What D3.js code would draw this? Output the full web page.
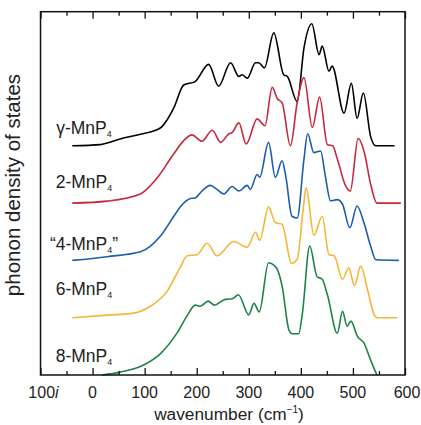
<!DOCTYPE html>
<html>
<head>
<meta charset="utf-8">
<script src="https://cdn.jsdelivr.net/npm/d3@7/dist/d3.min.js"></script>
<style>
  html, body { margin: 0; padding: 0; background: #fff; }
  svg { display: block; font-family: "Liberation Sans", Arial, Helvetica, sans-serif; }
</style>
</head>
<body>
<svg id="chart" width="421" height="425"></svg>
<script>
// Phonon density of states for MnP4 polytypes, stacked with vertical offsets.
// Each series: [wavenumber (cm^-1), DOS (arb. units)]

const seriesNames = ["γ-MnP", "2-MnP", "“4-MnP", "6-MnP", "8-MnP"];
const seriesSuffix = ["", "", "”", "", ""];
const seriesColors = ["#000000", "#c8283c", "#1b5eab", "#f7b535", "#1c8448"];
const seriesOffsets = [4, 3, 2, 1, 0];

const gammaMnP4 = [
  [-39, 0], [15, 0.02], [28, 0.05], [53, 0.12], [92, 0.2], [130, 0.31], [143, 0.45],
  [156, 0.66], [175, 1.06], [197, 1.12], [223, 1.42], [242, 1.04], [265, 1.45],
  [281, 1.21], [287, 1.24], [297, 1.18], [313, 1.45], [319, 1.45], [330, 1.36],
  [348, 1.97], [367, 1.24], [374, 1.21], [393, 0.77], [406, 1.71], [421, 2.13],
  [435, 1.59], [441, 1.74], [454, 1.3], [460, 1.39], [483, 0.57], [497, 1.09],
  [508, 0.48], [520, 0.92], [534, 0.16], [544, 0], [580, 0]
];

const mnP4_2 = [
  [-39, 0], [28, 0.035], [92, 0.16], [124, 0.44], [156, 0.86], [175, 1.09],
  [191, 1.19], [210, 1.08], [230, 1.27], [246, 1.06], [262, 1.21], [268, 1.23],
  [281, 1.4], [295, 1.03], [316, 1.47], [331, 1.35], [345, 2.02], [355, 1.82],
  [364, 1.75], [380, 1.0], [393, 1.76], [406, 2.19], [422, 1.32], [436, 1.85],
  [451, 1.02], [461, 1.0], [470, 0.77], [486, 0.3], [495, 0.21], [510, 1.13],
  [522, 0.88], [534, 0.33], [546, 0], [592, 0]
];

const mnP4_4 = [
  [-39, 0], [28, 0.065], [92, 0.15], [130, 0.42], [156, 0.77], [169, 0.94],
  [188, 1.08], [197, 1.09], [210, 1.21], [226, 1.31], [239, 1.24], [252, 1.16],
  [268, 1.29], [281, 1.21], [297, 1.31], [303, 1.24], [316, 1.5], [321, 1.45],
  [338, 2.06], [351, 1.45], [364, 1.74], [371, 1.47], [383, 0.77], [393, 0.74],
  [406, 1.77], [413, 2.21], [425, 1.88], [438, 1.91], [447, 1.47], [457, 1.04],
  [470, 1.06], [480, 0.98], [494, 0.57], [508, 0.95], [521, 0.66], [534, 0.25],
  [544, 0.01], [588, 0]
];

const mnP4_6 = [
  [-39, 0], [28, 0.045], [79, 0.08], [111, 0.2], [143, 0.46], [166, 0.84],
  [182, 1.08], [201, 1.1], [220, 1.3], [239, 1.08], [271, 1.33], [297, 1.23],
  [313, 1.49], [321, 1.35], [338, 1.93], [351, 1.66], [364, 1.63], [382, 0.95],
  [393, 1.02], [404, 1.85], [410, 2.27], [425, 1.44], [441, 1.77], [454, 1.1],
  [464, 1.08], [480, 0.67], [492, 0.87], [503, 0.56], [515, 0.9], [528, 0.49],
  [541, 0.05], [547, 0], [585, 0]
];

const mnP4_8 = [
  [18, 0], [53, 0.05], [98, 0.175], [130, 0.37], [162, 0.73], [182, 1.04],
  [197, 1.22], [207, 1.2], [222, 1.29], [234, 1.22], [255, 1.32], [268, 1.33],
  [280, 1.4], [300, 1.05], [310, 1.25], [320, 1.1], [338, 1.96], [349, 1.91],
  [355, 1.84], [364, 1.55], [377, 0.79], [383, 0.72], [396, 0.72], [403, 1.08],
  [417, 2.25], [431, 1.72], [441, 1.67], [451, 1.4], [470, 0.73], [480, 1.11],
  [489, 0.85], [496, 0.94], [509, 0.67], [521, 0.56], [534, 0.26], [546, 0]
];

const seriesData = [gammaMnP4, mnP4_2, mnP4_4, mnP4_6, mnP4_8];

const majorTicks = [-100, 0, 100, 200, 300, 400, 500, 600];
const minorTicks = [-50, 50, 150, 250, 350, 450, 550];
const tickLabels = ["100", "0", "100", "200", "300", "400", "500", "600"];

const svg = d3.select("#chart");
const plotLeft = 40.5, plotRight = 405, plotTop = 11.7, plotBottom = 375;

const x = d3.scaleLinear().domain([-100, 600]).range([plotLeft, plotRight]);
const y = d3.scaleLinear().domain([0, 6.34]).range([plotBottom, plotTop]);

// Curves
const line = d3.line()
  .x(d => x(d[0]))
  .y(d => y(d[1]))
  .curve(d3.curveMonotoneX);

seriesData.forEach((data, i) => {
  const shifted = data.map(d => [d[0], d[1] + seriesOffsets[i]]);
  svg.append("path")
    .datum(shifted)
    .attr("d", line)
    .attr("fill", "none")
    .attr("stroke", seriesColors[i])
    .attr("stroke-width", 1.6)
    .attr("stroke-linejoin", "round");
});

// Frame
svg.append("rect")
  .attr("x", plotLeft).attr("y", plotTop)
  .attr("width", plotRight - plotLeft).attr("height", plotBottom - plotTop)
  .attr("fill", "none").attr("stroke", "#111").attr("stroke-width", 1.5);

// Bottom and top axes with inward ticks
const bottomAxisMajor = d3.axisBottom(x).tickValues(majorTicks).tickSize(-7).tickFormat("");
const bottomAxisMinor = d3.axisBottom(x).tickValues(minorTicks).tickSize(-4).tickFormat("");
const topAxisMajor = d3.axisTop(x).tickValues(majorTicks).tickSize(-7).tickFormat("");
const topAxisMinor = d3.axisTop(x).tickValues(minorTicks).tickSize(-4).tickFormat("");

[[bottomAxisMajor, plotBottom], [bottomAxisMinor, plotBottom], [topAxisMajor, plotTop], [topAxisMinor, plotTop]].forEach(([ax, pos]) => {
  const g = svg.append("g").attr("transform", `translate(0,${pos})`).call(ax);
  g.select(".domain").remove();
  g.selectAll(".tick line").attr("stroke", "#111").attr("stroke-width", 1.3);
});

// Tick labels
const labelG = svg.append("g");
majorTicks.forEach((v, i) => {
  const t = labelG.append("text")
    .attr("x", x(v) + (v === -100 ? 3 : v === 600 ? 2 : 0))
    .attr("y", 398)
    .attr("text-anchor", "middle")
    .attr("font-size", 16)
    .attr("fill", "#222")
    .text(tickLabels[i]);
  if (v === -100) t.append("tspan").attr("font-style", "italic").text("i");
});

// Axis titles
const xt = svg.append("text")
  .attr("x", 229).attr("y", 420)
  .attr("text-anchor", "middle")
  .attr("font-size", 17.3)
  .attr("fill", "#222")
  .text("wavenumber (cm");
xt.append("tspan").attr("font-size", 10).attr("dy", -7).text("−1");
xt.append("tspan").attr("dy", 7).text(")");

svg.append("text")
  .attr("transform", "translate(20,185) rotate(-90)")
  .attr("text-anchor", "middle")
  .attr("font-size", 20.5)
  .attr("fill", "#222")
  .text("phonon density of states");

// Series labels
const labelY = [133.5, 188, 250, 295, 362];
seriesNames.forEach((name, i) => {
  const t = svg.append("text")
    .attr("x", 84).attr("y", labelY[i])
    .attr("text-anchor", "middle")
    .attr("font-size", 17.5)
    .attr("fill", "#222")
    .text(name);
  t.append("tspan").attr("font-size", 9).attr("dy", 3).text("4");
  if (seriesSuffix[i]) t.append("tspan").attr("dy", -3).text(seriesSuffix[i]);
});
</script>
</body>
</html>
